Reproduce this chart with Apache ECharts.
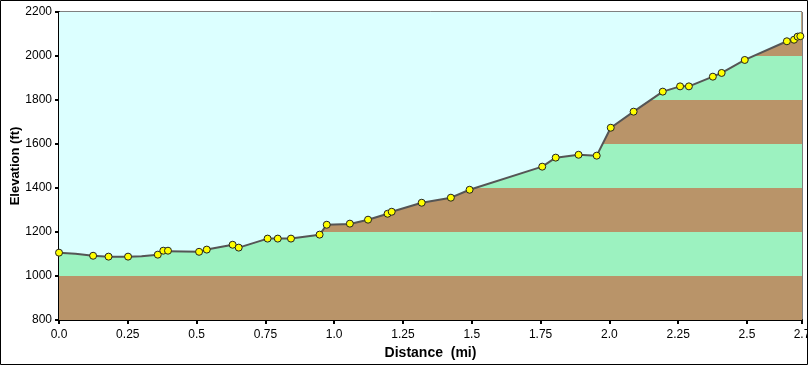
<!DOCTYPE html>
<html>
<head>
<meta charset="utf-8">
<script src="https://cdn.jsdelivr.net/npm/echarts@6/dist/echarts.min.js"></script>
<style>
html,body{margin:0;padding:0;background:#fff;}
#chart{width:808px;height:365px;}
</style>
</head>
<body>
<div id="chart"></div>
<script>
// Elevation profile (line vertices)
const profileDist = [0.0, 0.06, 0.124, 0.18, 0.251, 0.30, 0.359, 0.379, 0.396, 0.509, 0.537, 0.631, 0.653, 0.758, 0.795, 0.843, 0.947, 0.973, 1.057, 1.123, 1.194, 1.209, 1.318, 1.424, 1.492, 1.756, 1.805, 1.888, 1.954, 2.005, 2.088, 2.194, 2.257, 2.289, 2.376, 2.408, 2.492, 2.645, 2.671, 2.684, 2.697];
const profileElev = [1106, 1101, 1092, 1088, 1088, 1090, 1097, 1113, 1113, 1110, 1120, 1142, 1129, 1170, 1170, 1170, 1188, 1233, 1236, 1256, 1283, 1292, 1333, 1356, 1392, 1497, 1538, 1551, 1547, 1674, 1747, 1838, 1862, 1862, 1906, 1923, 1982, 2067, 2074, 2088, 2090];
// Waypoint markers
const waypointDist = [0.0, 0.124, 0.18, 0.251, 0.359, 0.379, 0.396, 0.509, 0.537, 0.631, 0.653, 0.758, 0.795, 0.843, 0.947, 0.973, 1.057, 1.123, 1.194, 1.209, 1.318, 1.424, 1.492, 1.756, 1.805, 1.888, 1.954, 2.005, 2.088, 2.194, 2.257, 2.289, 2.376, 2.408, 2.492, 2.645, 2.671, 2.684, 2.694];
const waypointElev = [1106, 1092, 1088, 1088, 1097, 1115, 1115, 1110, 1120, 1142, 1129, 1170, 1170, 1170, 1188, 1233, 1238, 1256, 1283, 1292, 1333, 1356, 1392, 1497, 1538, 1551, 1547, 1674, 1747, 1838, 1862, 1862, 1906, 1923, 1982, 2067, 2074, 2088, 2090];
// Elevation bands
const bandEdges = [800, 1000, 1200, 1400, 1600, 1800, 2000, 2200];
const bandColors = ['#b99469', '#9cf2c0', '#b99469', '#9cf2c0', '#b99469', '#9cf2c0', '#b99469'];
const skyColor = '#dcffff';

const font = 'Liberation Sans, Arial, sans-serif';
const bands = [];
for (let i = 0; i < bandColors.length; i++) {
  bands.push([{yAxis: bandEdges[i], itemStyle: {color: bandColors[i], opacity: 1}}, {yAxis: bandEdges[i + 1]}]);
}

const chart = echarts.init(document.getElementById('chart'), null, {renderer: 'canvas'});
chart.setOption({
  animation: false,
  backgroundColor: '#fff',
  graphic: [{
    type: 'rect', z: 100, silent: true,
    shape: {x: 0.5, y: 0.5, width: 807, height: 364},
    style: {fill: 'none', stroke: '#000', lineWidth: 1}
  }],
  grid: {left: 59, right: 6, top: 12, bottom: 45, containLabel: false, outerBoundsMode: 'none',
    show: true, borderColor: '#000', borderWidth: 1, backgroundColor: 'transparent'},
  xAxis: {
    type: 'value', min: 0, max: 2.7, interval: 0.25,
    name: 'Distance  (mi)', nameLocation: 'middle', nameGap: 26, nameMoveOverlap: false,
    nameTextStyle: {fontFamily: font, fontWeight: 'bold', fontSize: 14, color: '#000'},
    axisLine: {show: true, onZero: false, lineStyle: {color: '#000', width: 2}},
    axisTick: {show: true, length: 4, lineStyle: {color: '#000', width: 2}},
    axisLabel: {margin: 9, fontFamily: font, fontSize: 12, color: '#000', showMaxLabel: true,
      formatter: v => (Math.round(v * 100) % 10 === 0 ? v.toFixed(1) : v.toFixed(2))},
    splitLine: {show: false}
  },
  yAxis: {
    type: 'value', min: 800, max: 2200, interval: 200,
    name: 'Elevation (ft)', nameLocation: 'middle', nameGap: 37, nameMoveOverlap: false,
    nameTextStyle: {fontFamily: font, fontWeight: 'bold', fontSize: 13, color: '#000'},
    axisLine: {show: true, onZero: false, lineStyle: {color: '#000', width: 2}},
    axisTick: {show: true, length: 4, lineStyle: {color: '#000', width: 2}},
    axisLabel: {margin: 7, fontFamily: font, fontSize: 12, color: '#000', formatter: v => String(v)},
    splitLine: {show: false}
  },
  series: [
    {
      type: 'line', data: [], z: 1, silent: true,
      markArea: {silent: true, data: bands}
    },
    {
      type: 'line', z: 3, silent: true,
      data: profileDist.map((d, i) => [d, profileElev[i]]),
      symbol: 'none',
      lineStyle: {color: '#555555', width: 2},
      areaStyle: {origin: 'end', color: skyColor, opacity: 1}
    },
    {
      type: 'scatter', z: 4, silent: true,
      data: waypointDist.map((d, i) => [d, waypointElev[i]]),
      symbol: 'circle', symbolSize: 7,
      itemStyle: {color: '#ffff00', borderColor: '#222', borderWidth: 1, opacity: 1}
    }
  ]
});
</script>
</body>
</html>
